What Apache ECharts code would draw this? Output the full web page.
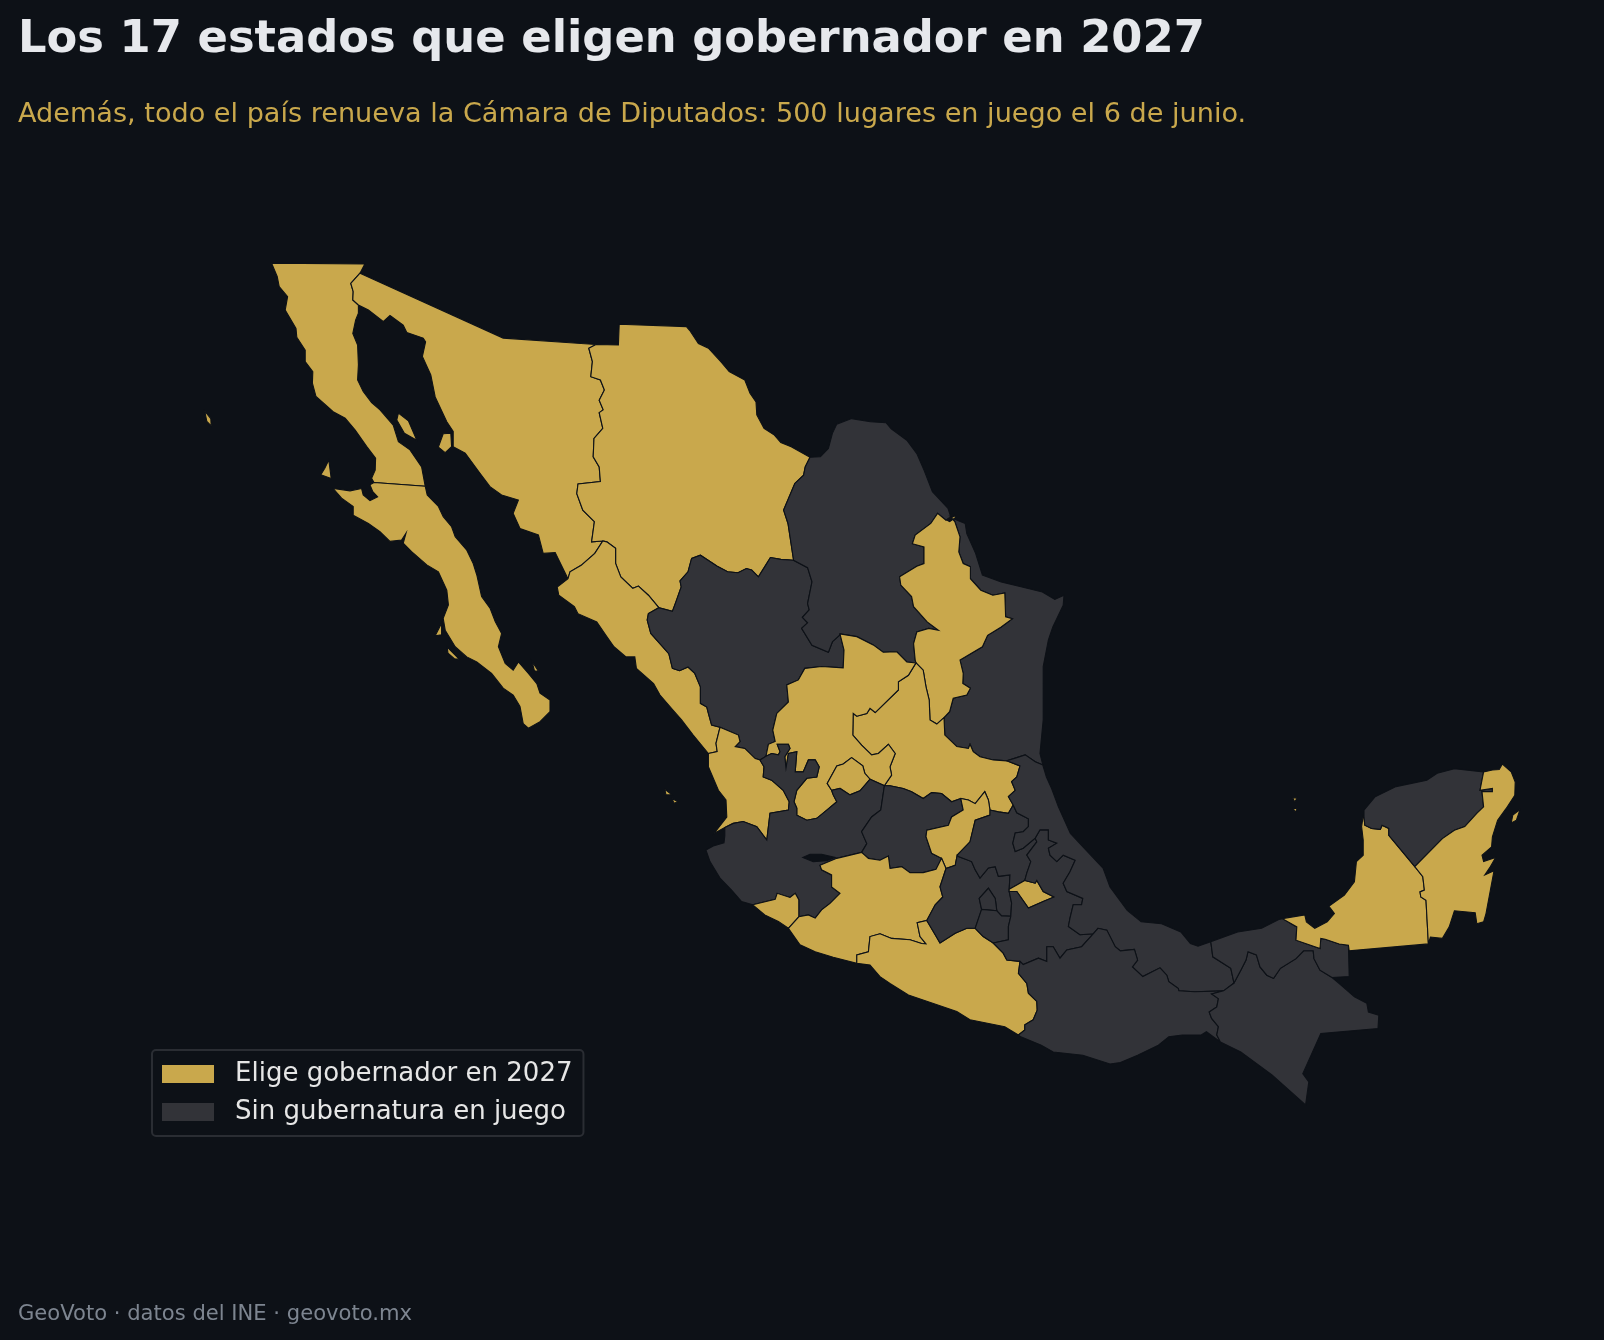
<!DOCTYPE html>
<html>
<head>
<meta charset="utf-8">
<style>
  html, body { margin: 0; padding: 0; background: #0d1117; }
  #main { width: 1604px; height: 1340px; }
</style>
<script src="https://cdn.jsdelivr.net/npm/echarts@6/dist/echarts.min.js"></script>
</head>
<body>
<div id="main"></div>
<script>
// Estados por grupo
const eligen2027 = ["Baja California", "Baja California Sur", "Sonora", "Chihuahua", "Sinaloa", "Nuevo León", "Zacatecas", "San Luis Potosí", "Nayarit", "Aguascalientes", "Michoacán", "Colima", "Guerrero", "Querétaro", "Tlaxcala", "Campeche", "Quintana Roo"];
const sinGubernatura = ["Coahuila", "Tamaulipas", "Durango", "Jalisco", "Guanajuato", "Hidalgo", "México", "Ciudad de México", "Morelos", "Puebla", "Veracruz", "Oaxaca", "Chiapas", "Tabasco", "Yucatán"];
const legendNames = ["Elige gobernador en 2027", "Sin gubernatura en juego"];

const bcSon = [[-115.0,32.46],[-115.23,32.24],[-115.17,32.06],[-115.18,31.88],[-115.04,31.77]];
const bcGulf = [[-115.04,31.59],[-115.11,31.44],[-115.18,31.15],[-115.06,30.9],[-115.04,30.47],[-115.06,30.14],[-114.92,29.89],[-114.71,29.65],[-114.5,29.49],[-114.17,29.16],[-114.04,28.8],[-113.75,28.62],[-113.46,28.25],[-113.37,27.83]];
const bcPacific = [[-114.65,27.91],[-114.71,28.0],[-114.62,28.18],[-114.61,28.44],[-114.83,28.69],[-115.12,29.05],[-115.37,29.31],[-115.67,29.45],[-116.1,29.78],[-116.19,30.07],[-116.18,30.32],[-116.37,30.54],[-116.37,30.79],[-116.58,31.07],[-116.6,31.26],[-116.87,31.66],[-116.81,31.95],[-117.02,32.17],[-117.07,32.39],[-117.21,32.68],[-114.88,32.66]];
const bcsCoast = [[-113.37,27.83],[-113.32,27.64],[-113.04,27.39],[-112.92,27.17],[-112.71,26.95],[-112.62,26.73],[-112.33,26.44],[-112.17,26.15],[-112.08,25.9],[-111.96,25.43],[-111.75,25.18],[-111.62,24.89],[-111.46,24.63],[-111.54,24.34],[-111.37,23.98],[-111.17,23.83],[-111.04,24.01],[-110.79,23.76],[-110.58,23.54],[-110.5,23.33],[-110.25,23.18],[-110.25,22.93],[-110.5,22.71],[-110.79,22.57],[-110.92,22.67],[-111.0,23.04],[-111.17,23.29],[-111.42,23.44],[-111.71,23.76],[-112.08,24.01],[-112.33,24.12],[-112.62,24.34],[-112.87,24.7],[-112.92,24.96],[-112.79,25.25],[-112.83,25.57],[-113.04,25.97],[-113.33,26.12],[-113.71,26.41],[-113.92,26.59],[-113.85,26.81],[-113.96,26.66],[-114.25,26.63],[-114.5,26.84],[-114.79,27.02],[-115.17,27.2],[-115.17,27.39],[-115.46,27.57],[-115.67,27.78],[-115.25,27.73],[-114.96,27.78],[-114.92,27.64],[-114.75,27.52],[-114.56,27.6],[-114.68,27.71],[-114.75,27.86],[-114.65,27.91]];
const sonTop = [[-115.0,32.46],[-111.42,31.05],[-109.1,30.91]];
const sonChi = [[-109.1,30.91],[-109.28,30.83],[-109.19,30.54],[-109.23,30.21],[-108.99,30.14],[-108.89,29.92],[-109.02,29.7],[-108.92,29.49],[-109.02,29.43],[-108.93,29.09],[-109.15,28.87],[-109.17,28.47],[-109.02,28.25],[-108.99,27.93],[-109.55,27.88],[-109.58,27.67],[-109.43,27.31],[-109.14,27.06],[-109.21,26.62],[-108.93,26.64]];
const sonSin = [[-108.93,26.64],[-109.13,26.37],[-109.47,26.11],[-109.75,25.97],[-109.8,25.82]];
const sonGulf = [[-110.12,26.39],[-110.42,26.37],[-110.54,26.77],[-111.0,26.91],[-111.17,27.24],[-111.04,27.53],[-111.46,27.64],[-111.75,27.82],[-112.0,28.11],[-112.37,28.55],[-112.67,28.69],[-112.67,29.02],[-112.83,29.23],[-113.12,29.77],[-113.23,30.25],[-113.44,30.65],[-113.36,30.97],[-113.42,31.05],[-113.83,31.17],[-113.92,31.33],[-114.25,31.54],[-114.42,31.41],[-114.79,31.66],[-115.04,31.77]];
const chihNorth = [[-108.54,30.9],[-108.52,31.35],[-106.84,31.3],[-106.76,31.22],[-106.54,30.93],[-106.29,30.83],[-105.98,30.54],[-105.77,30.32],[-105.38,30.14],[-105.25,29.85],[-105.1,29.66],[-105.08,29.38],[-104.9,29.09],[-104.64,28.94],[-104.48,28.78],[-104.22,28.69],[-103.75,28.46]];
const chihCoah = [[-103.75,28.46],[-103.87,28.25],[-103.91,28.07],[-104.13,27.89],[-104.41,27.31],[-104.3,27.02],[-104.16,26.22]];
const chihDur = [[-104.16,26.22],[-104.48,26.24],[-104.74,26.28],[-104.86,26.11],[-105.04,25.86],[-105.21,26.01],[-105.34,26.04],[-105.55,25.95],[-105.81,25.97],[-106.07,26.09],[-106.49,26.33],[-106.71,26.26],[-106.8,25.97],[-107.0,25.77],[-106.97,25.64],[-107.1,25.32],[-107.19,25.11],[-107.53,25.19]];
const chihSin = [[-107.53,25.19],[-107.79,25.46],[-108.04,25.66],[-108.18,25.61],[-108.48,25.86],[-108.61,26.15],[-108.61,26.48],[-108.83,26.62],[-108.93,26.64]];
const sinDur = [[-107.53,25.19],[-107.79,25.06],[-107.82,24.92],[-107.73,24.63],[-107.28,24.19],[-107.19,23.87],[-107.01,23.82],[-106.8,23.9],[-106.63,23.76],[-106.49,23.47],[-106.49,23.11],[-106.33,23.03],[-106.29,22.89],[-106.21,22.64],[-106.0,22.59]];
const sinNay = [[-106.0,22.59],[-106.1,22.24],[-106.07,22.06],[-106.29,22.02]];
const sinCoast = [[-106.29,22.02],[-106.67,22.42],[-106.96,22.75],[-107.17,22.96],[-107.5,23.29],[-107.66,23.54],[-108.09,23.87],[-108.13,24.12],[-108.35,24.12],[-108.65,24.34],[-108.83,24.56],[-109.08,24.88],[-109.55,25.06],[-109.64,25.21],[-110.03,25.46],[-110.07,25.64],[-109.8,25.82]];
const durCoah = [[-104.16,26.22],[-103.81,26.06],[-103.7,25.75],[-103.81,25.28],[-103.77,25.14],[-103.94,24.98],[-103.81,24.86],[-103.96,24.74],[-103.7,24.37],[-103.29,24.22],[-103.19,24.45],[-103.01,24.59]];
const coahNorth = [[-103.75,28.46],[-103.49,28.47],[-103.29,28.65],[-103.19,28.98],[-103.08,29.18],[-102.71,29.3],[-102.24,29.23],[-101.85,29.21],[-101.72,29.08],[-101.33,28.83],[-101.08,28.54],[-100.9,28.18],[-100.69,27.71],[-100.3,27.35],[-100.23,27.16]];
const coahNL = [[-100.23,27.16],[-100.35,27.09],[-100.56,27.24],[-100.73,27.02],[-101.12,26.77],[-101.19,26.58],[-100.9,26.51],[-100.9,26.15],[-101.08,26.09],[-101.51,25.86],[-101.48,25.68],[-101.21,25.43],[-101.16,25.21],[-100.82,24.88],[-100.54,24.7],[-100.78,24.74],[-101.08,24.66],[-101.16,24.41],[-101.12,24.05],[-101.1,23.99]];
const coahZac = [[-103.0,24.62],[-102.58,24.56],[-102.17,24.38],[-101.92,24.22],[-101.58,24.23],[-101.33,24.01],[-101.1,23.99]];
const nlSliver = [[-100.32,27.09],[-100.13,27.19],[-100.11,27.15],[-100.26,27.06]];
const nlSlp = [[-101.1,23.99],[-100.92,23.83],[-100.85,23.47],[-100.77,23.18],[-100.75,22.75],[-100.58,22.66],[-100.4,22.8]];
const nlTam = [[-100.23,27.16],[-100.13,27.06],[-100.0,26.73],[-100.03,26.4],[-99.92,26.15],[-99.74,26.08],[-99.74,25.82],[-99.48,25.57],[-99.18,25.46],[-98.88,25.51],[-98.86,24.99],[-98.69,24.95],[-98.97,24.77],[-99.31,24.59],[-99.44,24.34],[-100.0,24.05],[-99.92,23.76],[-99.93,23.54],[-99.74,23.44],[-99.83,23.29],[-100.17,23.22],[-100.26,22.93],[-100.4,22.8]];
const tamCoast = [[-100.23,27.16],[-100.13,27.11],[-99.87,27.02],[-99.83,26.8],[-99.61,26.37],[-99.44,25.9],[-98.97,25.75],[-98.45,25.64],[-97.94,25.53],[-97.63,25.37],[-97.4,25.46],[-97.42,25.24],[-97.68,24.77],[-97.79,24.49],[-97.92,23.91],[-97.92,22.75],[-98.0,22.02],[-97.93,21.77]];
const tamVer = [[-97.93,21.77],[-98.12,21.84],[-98.37,21.99],[-98.58,21.93],[-98.83,21.86]];
const slpTam = [[-100.4,22.8],[-100.38,22.42],[-100.08,22.17],[-99.79,22.13],[-99.75,22.22],[-99.67,22.06],[-99.5,21.95],[-99.17,21.88],[-98.83,21.86]];
const slpVer = [[-98.83,21.86],[-98.5,21.75],[-98.58,21.51],[-98.71,21.41],[-98.62,21.22],[-98.79,21.08],[-98.67,20.9]];
const slpHgo = [[-98.67,20.9],[-98.79,20.72],[-99.04,20.75],[-99.25,20.79]];
const slpQro = [[-99.25,20.79],[-99.29,21.01],[-99.38,21.19],[-99.62,20.93],[-99.79,21.01],[-99.98,21.04]];
const slpGto = [[-99.98,21.04],[-100.21,20.97],[-100.46,21.15],[-100.71,21.17],[-100.92,21.04],[-101.21,21.19],[-101.42,21.26],[-101.75,21.32],[-101.89,21.32]];
const zacSlp = [[-101.1,23.99],[-101.29,23.72],[-101.54,23.58],[-101.54,23.4],[-102.12,22.91],[-102.25,23.0],[-102.33,22.89],[-102.58,22.83],[-102.67,22.89],[-102.68,22.42],[-102.46,22.2],[-102.21,21.99],[-102.04,22.02],[-101.79,22.22],[-101.62,22.02],[-101.75,21.73],[-101.71,21.55],[-101.89,21.32]];
const durZac = [[-103.0,24.62],[-102.9,24.27],[-102.92,23.88],[-103.46,23.91],[-103.88,23.87],[-104.04,23.62],[-104.33,23.51],[-104.29,23.14],[-104.58,22.89],[-104.68,22.53],[-104.62,22.28],[-104.79,22.22],[-104.85,21.96]];
const zacJal = [[-104.85,21.96],[-104.71,22.02],[-104.54,21.99],[-104.5,22.06],[-104.57,22.22],[-104.29,22.22],[-104.25,22.13],[-104.38,21.95],[-104.35,21.7],[-104.29,22.02],[-104.08,22.06],[-104.12,21.62],[-103.92,21.62],[-103.79,21.88],[-103.62,21.88],[-103.52,21.73],[-103.58,21.51],[-103.83,21.48],[-104.08,21.22],[-104.15,20.97],[-104.08,20.83],[-104.08,20.68],[-103.83,20.57],[-103.58,20.61],[-103.33,20.79],[-103.08,20.97],[-103.17,21.12],[-103.21,21.22]];
const zacAgs = [[-103.21,21.22],[-103.32,21.37],[-103.08,21.75],[-102.92,21.79],[-102.71,21.93],[-102.43,21.75],[-102.38,21.59],[-102.25,21.46]];
const jalAgs = [[-103.21,21.22],[-103.0,21.26],[-102.75,21.12],[-102.5,21.21],[-102.25,21.46]];
const zacEast = [[-102.25,21.46],[-101.89,21.32]];
const gtoJal = [[-101.89,21.32],[-101.98,20.79],[-102.21,20.64],[-102.46,20.32],[-102.33,20.06],[-102.46,19.87]];
const jalMich = [[-102.46,19.87],[-103.08,19.74],[-103.5,19.59],[-103.46,19.49],[-103.21,19.38],[-103.21,19.12],[-103.0,18.98],[-103.25,18.76],[-103.46,18.62],[-103.62,18.44],[-103.79,18.51],[-104.03,18.47]];
const lagoChapala = [[-103.93,19.76],[-103.75,19.83],[-103.46,19.83],[-103.12,19.76],[-103.33,19.69],[-103.67,19.67]];
const colJal = [[-105.18,18.73],[-104.62,18.85],[-104.57,18.98],[-104.25,18.89],[-104.12,18.98],[-104.03,18.84],[-104.03,18.47]];
const colMich = [[-104.03,18.47],[-104.29,18.22]];
const colCoast = [[-104.29,18.22],[-104.54,18.37],[-104.88,18.51],[-105.18,18.73]];
const jalCoast = [[-105.18,18.73],[-105.46,18.8],[-105.71,19.05],[-106.0,19.31],[-106.25,19.67],[-106.35,19.92],[-106.17,20.01],[-105.9,20.08],[-105.88,20.23],[-105.88,20.41]];
const nayJal = [[-105.88,20.41],[-105.67,20.5],[-105.42,20.54],[-105.08,20.43],[-104.83,20.14],[-104.75,20.72],[-104.29,20.79],[-104.27,20.97],[-104.42,21.22],[-104.71,21.44],[-104.92,21.51],[-104.9,21.73],[-105.0,21.88]];
const nayDur = [[-106.0,22.59],[-105.54,22.42],[-105.5,22.28],[-105.62,22.17],[-105.38,22.13],[-105.12,21.91],[-105.0,21.88]];
const nayCoast = [[-105.88,20.41],[-106.15,20.28],[-105.83,20.64],[-105.85,21.01],[-106.04,21.22],[-106.29,21.73],[-106.29,22.02]];
const qroGto = [[-99.98,21.04],[-99.92,20.79],[-100.21,20.64],[-100.29,20.46],[-100.83,20.35],[-100.85,20.21],[-100.71,19.85],[-100.46,19.74]];
const qroMich = [[-100.46,19.74],[-100.35,19.52]];
const mexQro = [[-100.35,19.52],[-100.12,19.59],[-100.07,19.81]];
const hgoQro = [[-100.07,19.81],[-99.75,20.1],[-99.62,20.57],[-99.25,20.68],[-99.25,20.79]];
const gtoMich = [[-100.46,19.74],[-100.6,19.5],[-100.92,19.43],[-101.25,19.43],[-101.46,19.56],[-101.75,19.52],[-101.79,19.79],[-102.0,19.7],[-102.29,19.74],[-102.46,19.87]];
const hgoVer = [[-98.67,20.9],[-98.58,20.73],[-98.29,20.6],[-98.29,20.43],[-98.42,20.32],[-98.62,20.29],[-98.68,20.07],[-98.62,19.89],[-98.42,19.96],[-98.12,20.18]];
const hgoPue = [[-98.12,20.18],[-98.08,20.1],[-98.33,19.81],[-98.23,19.67],[-98.33,19.42],[-98.38,19.26]];
const hgoTlax = [[-98.38,19.26],[-98.58,19.16],[-98.77,19.07]];
const hgoMex = [[-98.77,19.07],[-98.75,19.38],[-99.04,19.35],[-99.12,19.56],[-99.29,19.53],[-99.5,19.31],[-99.62,19.49],[-99.71,19.67],[-100.04,19.78],[-100.07,19.81]];
const tlaxPue = [[-98.38,19.26],[-98.12,19.2],[-98.08,19.26],[-97.92,19.02],[-97.65,18.9],[-97.92,18.8],[-98.29,18.66],[-98.58,19.02],[-98.77,19.02]];
const tlaxMex = [[-98.77,19.07],[-98.77,19.02]];
const mexPue = [[-98.77,19.02],[-98.71,18.77],[-98.73,18.48]];
const morMexE = [[-98.73,18.48],[-98.96,18.49],[-99.08,18.6]];
const cdmxMor = [[-99.08,18.6],[-99.46,18.63]];
const cdmxMex = [[-99.46,18.63],[-99.52,18.87],[-99.29,19.09],[-99.12,18.87],[-99.08,18.6]];
const morMexW = [[-99.46,18.63],[-99.62,18.22]];
const groMex = [[-100.83,18.39],[-100.62,18.08],[-100.5,17.9],[-100.12,18.11],[-99.83,18.22],[-99.62,18.22]];
const mexMich = [[-100.35,19.52],[-100.5,19.12],[-100.43,18.9],[-100.62,18.73],[-100.83,18.39]];
const groMor = [[-99.62,18.22],[-99.42,18.04],[-99.17,17.9]];
const morPue = [[-99.17,17.9],[-98.79,17.97],[-98.79,18.26],[-98.73,18.48]];
const groPue = [[-99.17,17.9],[-98.92,17.68],[-98.83,17.53],[-98.5,17.5]];
const michGro = [[-102.58,17.46],[-102.58,17.64],[-102.29,17.71],[-102.25,18.04],[-102.0,18.1],[-101.71,18.0],[-101.25,17.97],[-100.96,17.89],[-100.85,17.88],[-101.0,18.04],[-101.07,18.34],[-100.83,18.39]];
const michCoast = [[-102.58,17.46],[-103.17,17.59],[-103.62,17.71],[-104.0,17.86],[-104.29,18.22]];
const groCoast = [[-98.54,15.9],[-98.88,16.08],[-99.75,16.23],[-100.08,16.41],[-101.29,16.77],[-101.75,17.02],[-102.0,17.17],[-102.25,17.42],[-102.58,17.46]];
const groOax = [[-98.5,17.5],[-98.54,17.24],[-98.33,17.02],[-98.29,16.81],[-98.08,16.63],[-98.07,16.44],[-98.17,16.23],[-98.38,16.12],[-98.38,16.01],[-98.54,15.9]];
const pueVer = [[-98.12,20.18],[-98.0,20.36],[-97.79,20.36],[-97.79,20.14],[-97.58,20.07],[-97.79,19.96],[-97.75,19.81],[-97.58,19.67],[-97.42,19.81],[-97.12,19.7],[-97.25,19.45],[-97.42,19.2],[-97.33,19.02],[-96.93,18.87],[-96.96,18.73],[-97.17,18.73],[-97.25,18.44],[-97.29,18.26],[-97.0,18.08],[-96.67,18.1]];
const oaxPue = [[-96.67,18.1],[-96.96,17.82],[-97.33,17.75],[-97.5,17.57],[-97.67,17.82],[-97.83,17.82],[-97.83,17.5],[-98.04,17.57],[-98.42,17.43],[-98.5,17.5]];
const verCoast = [[-97.93,21.77],[-97.84,21.51],[-97.71,21.26],[-97.54,20.86],[-97.24,20.28],[-96.85,19.92],[-96.42,19.52],[-96.25,19.12],[-95.82,18.61],[-95.47,18.36],[-94.96,18.32],[-94.48,18.14],[-94.24,17.89],[-94.05,17.83],[-93.73,17.93]];
const verTab = [[-93.73,17.93],[-93.68,17.6],[-93.23,17.35],[-93.15,17.03]];
const verChis = [[-93.15,17.03],[-93.41,16.86]];
const oaxVer = [[-93.41,16.86],[-94.14,16.84],[-94.53,16.86],[-94.54,16.91],[-94.78,17.06],[-94.83,17.2],[-95.0,17.36],[-95.43,17.17],[-95.69,17.38],[-95.56,17.53],[-95.64,17.76],[-95.99,17.73],[-96.12,17.82],[-96.33,18.18],[-96.55,18.22],[-96.67,18.1]];
const oaxChis = [[-93.41,16.86],[-93.71,16.79],[-93.54,16.69],[-93.58,16.51],[-93.77,16.4],[-93.71,16.26],[-93.54,16.08],[-93.58,15.9],[-93.49,15.75]];
const oaxCoast = [[-93.49,15.75],[-93.84,15.97],[-93.97,15.9],[-94.44,15.9],[-94.78,15.86],[-95.04,15.68],[-95.56,15.46],[-95.99,15.3],[-96.25,15.27],[-96.93,15.46],[-97.67,15.53],[-97.97,15.68],[-98.48,15.86],[-98.54,15.9]];
const tabChis = [[-93.15,17.03],[-92.98,17.31],[-92.85,17.53],[-92.8,17.71],[-92.59,17.64],[-92.5,17.38],[-92.33,17.2],[-92.16,17.13],[-91.99,17.35],[-91.6,17.56],[-91.41,17.73],[-91.17,17.73],[-91.15,17.56],[-91.0,17.31],[-90.7,17.15]];
const chisCoast = [[-90.7,17.15],[-90.52,17.02],[-90.14,16.73],[-89.83,16.59],[-89.79,16.4],[-89.53,16.33],[-89.55,16.04],[-90.98,15.93],[-91.43,15.06],[-91.28,14.88],[-91.36,14.38],[-92.2,15.03],[-92.98,15.53],[-93.49,15.75]];
const tabCoast = [[-93.73,17.93],[-93.06,18.14],[-92.46,18.22],[-92.03,18.41],[-91.94,18.43]];
const tabCamp = [[-91.94,18.43],[-91.58,18.25],[-91.6,17.96],[-91.0,17.78],[-90.98,18.0],[-90.87,17.98],[-90.52,17.88],[-90.29,17.85]];
const tabEast = [[-90.29,17.85],[-90.27,17.17],[-90.7,17.15]];
const campCoast = [[-91.94,18.43],[-91.38,18.51],[-91.34,18.36],[-91.13,18.22],[-90.82,18.36],[-90.64,18.54],[-90.78,18.7],[-90.39,18.94],[-90.14,19.23],[-90.09,19.67],[-89.92,19.81],[-89.92,20.14],[-89.96,20.43],[-89.92,20.66]];
const campYuc = [[-89.9,20.63],[-89.88,20.46],[-89.71,20.39],[-89.49,20.37],[-89.45,20.46],[-89.28,20.39],[-89.28,20.24],[-88.63,19.56]];
const campQroo = [[-88.63,19.56],[-88.43,19.34],[-88.39,19.05],[-88.5,19.01],[-88.48,18.9],[-88.35,18.83],[-88.29,17.88]];
const campSouth = [[-90.27,17.73]];
const yucCoast = [[-89.9,20.63],[-89.9,20.79],[-89.62,21.08],[-89.1,21.3],[-88.33,21.44],[-88.07,21.59],[-87.64,21.69],[-86.91,21.62]];
const yucQroo = [[-86.91,21.62],[-87.0,21.22],[-86.69,21.26],[-86.69,21.19],[-86.95,21.19],[-86.91,20.86],[-87.08,20.72],[-87.38,20.43],[-87.64,20.35],[-87.94,20.17],[-88.63,19.56]];
const qrooCoast = [[-86.91,21.62],[-86.69,21.66],[-86.52,21.67],[-86.44,21.79],[-86.22,21.62],[-86.12,21.4],[-86.13,21.11],[-86.35,20.82],[-86.56,20.57],[-86.69,20.21],[-86.71,19.99],[-86.95,19.81],[-86.91,19.67],[-86.61,19.76],[-86.74,19.56],[-86.88,19.38],[-86.65,19.47],[-86.74,19.05],[-86.85,18.54],[-86.91,18.36],[-87.08,18.32],[-87.12,18.56],[-87.64,18.6],[-87.77,18.25],[-87.94,18.0],[-88.24,18.03],[-88.29,17.88]];

// Islas
const islaGuadalupe = [[-118.88,29.46],[-118.73,29.3],[-118.72,29.14],[-118.83,29.24]];
const islaCedros = [[-115.78,28.4],[-115.72,28.0],[-115.98,28.08],[-115.88,28.22]];
const islaAngel = [[-114.04,29.42],[-113.79,29.25],[-113.58,28.83],[-113.89,28.98],[-114.08,29.27]];
const islaTiburon = [[-112.92,28.97],[-112.73,28.98],[-112.71,28.69],[-112.87,28.56],[-113.04,28.68]];
const islaEspiritu = [[-110.7,24.02],[-110.53,23.8],[-110.64,23.82]];
const islaMargarita = [[-112.82,24.33],[-112.52,24.07],[-112.64,24.08],[-112.8,24.2]];
const islaMagdalena = [[-113.12,24.58],[-112.96,24.85],[-112.96,24.6]];
const islaMaria1 = [[-107.38,21.24],[-107.2,21.12],[-107.35,21.12]];
const islaMaria2 = [[-107.2,21.04],[-107.05,20.97],[-107.15,20.94]];
const arrecife1 = [[-91.69,21.06],[-91.57,21.05],[-91.63,20.97]];
const arrecife2 = [[-91.67,20.83],[-91.57,20.82],[-91.62,20.74]];
const islaCozumel = [[-86.0,20.8],[-86.09,20.57],[-86.22,20.51],[-86.18,20.68]];

const rev = (a) => [...a].reverse();
const ring = (...parts) => {
  const pts = parts.flat();
  pts.push(pts[0]);
  return pts;
};
const closed = (a) => [...a, a[0]];

const shapes = {
  "Baja California": [[ring(bcSon, bcGulf, bcPacific)], [closed(islaAngel)], [closed(islaCedros)], [closed(islaGuadalupe)]],
  "Baja California Sur": [[ring(bcsCoast)], [closed(islaEspiritu)], [closed(islaMargarita)], [closed(islaMagdalena)]],
  "Sonora": [[ring(sonTop, sonChi, sonSin, sonGulf, rev(bcSon))], [closed(islaTiburon)]],
  "Chihuahua": [[ring(chihNorth, chihCoah, chihDur, chihSin, rev(sonChi))]],
  "Sinaloa": [[ring(rev(sonSin), rev(chihSin), sinDur, sinNay, sinCoast)]],
  "Durango": [[ring(durCoah, durZac, rev(nayDur), rev(sinDur), rev(chihDur))]],
  "Coahuila": [[ring(coahNorth, coahNL, rev(coahZac), rev(durCoah), rev(chihCoah))]],
  "Tamaulipas": [[ring(tamCoast, tamVer, rev(slpTam), rev(nlTam))]],
  "Nuevo León": [[ring(coahNL, nlSlp, rev(nlTam))], [closed(nlSliver)]],
  "San Luis Potosí": [[ring(nlSlp, slpTam, slpVer, slpHgo, slpQro, slpGto, rev(zacSlp))]],
  "Zacatecas": [[ring(coahZac, zacSlp, rev(zacEast), rev(zacAgs), rev(zacJal), rev(durZac))]],
  "Aguascalientes": [[ring(zacAgs, rev(jalAgs))]],
  "Nayarit": [[ring(rev(sinNay), nayDur, rev(nayJal), nayCoast)], [closed(islaMaria1)], [closed(islaMaria2)]],
  "Jalisco": [[ring(zacJal, jalAgs, zacEast, gtoJal, jalMich, rev(colJal), jalCoast, nayJal), closed(rev(lagoChapala))]],
  "Colima": [[ring(colJal, colMich, colCoast)]],
  "Guanajuato": [[ring(slpGto, gtoJal, rev(gtoMich), rev(qroGto))]],
  "Querétaro": [[ring(slpQro, qroGto, qroMich, mexQro, hgoQro)]],
  "Michoacán": [[ring(rev(jalMich), rev(gtoMich), qroMich, mexMich, rev(michGro), michCoast, rev(colMich))]],
  "Guerrero": [[ring(michGro, groMex, groMor, groPue, groOax, groCoast)]],
  "México": [[ring(rev(hgoMex), tlaxMex, mexPue, morMexE, rev(cdmxMex), morMexW, rev(groMex), rev(mexMich), mexQro)]],
  "Ciudad de México": [[ring(cdmxMor, cdmxMex)]],
  "Morelos": [[ring(groMor, morPue, morMexE, cdmxMor, morMexW)]],
  "Hidalgo": [[ring(hgoVer, hgoPue, hgoTlax, hgoMex, hgoQro, rev(slpHgo))]],
  "Tlaxcala": [[ring(rev(hgoTlax), tlaxPue, rev(tlaxMex))]],
  "Puebla": [[ring(rev(hgoPue), pueVer, oaxPue, rev(groPue), morPue, rev(mexPue), rev(tlaxPue))]],
  "Veracruz": [[ring(verCoast, verTab, verChis, oaxVer, rev(pueVer), rev(hgoVer), rev(slpVer), rev(tamVer))]],
  "Oaxaca": [[ring(oaxChis, oaxCoast, rev(groOax), rev(oaxPue), rev(oaxVer))]],
  "Chiapas": [[ring(tabChis, chisCoast, rev(oaxChis), rev(verChis))]],
  "Tabasco": [[ring(tabCoast, tabCamp, tabEast, rev(tabChis), rev(verTab))]],
  "Campeche": [[ring(campCoast, campYuc, campQroo, campSouth, rev(tabCamp))], [closed(arrecife1)], [closed(arrecife2)]],
  "Yucatán": [[ring(yucCoast, yucQroo, rev(campYuc))]],
  "Quintana Roo": [[ring(qrooCoast, rev(campQroo), rev(yucQroo))], [closed(islaCozumel)]]
};

const mexico = {
  type: "FeatureCollection",
  features: Object.keys(shapes).map((name) => ({
    type: "Feature",
    properties: { name: name },
    geometry: { type: "MultiPolygon", coordinates: shapes[name] }
  }))
};
echarts.registerMap("mexico", mexico);

const GOLD = "#c9a84c";
const GREY = "#323338";
const BG = "#0d1117";
const myChart = echarts.init(document.getElementById("main"));

const regionStyle = (name, color) => ({ name: name, itemStyle: { areaColor: color } });

const option = {
  backgroundColor: BG,
  animation: false,
  title: [
    { text: "Los 17 estados que eligen gobernador en 2027", left: 13, top: 13,
      textStyle: { color: "#e6e8ec", fontFamily: "DejaVu Sans", fontWeight: "bold", fontSize: 44.8 } },
    { text: "Además, todo el país renueva la Cámara de Diputados: 500 lugares en juego el 6 de junio.", left: 13, top: 96,
      textStyle: { color: GOLD, fontFamily: "DejaVu Sans", fontWeight: "normal", fontSize: 27.1 } },
    { text: "GeoVoto · datos del INE · geovoto.mx", left: 13, top: 1299,
      textStyle: { color: "#7d8590", fontFamily: "DejaVu Sans", fontWeight: "normal", fontSize: 21.1 } }
  ],
  legend: {
    left: 152, top: 1050,
    orient: "vertical",
    data: legendNames,
    icon: "rect",
    itemWidth: 52, itemHeight: 18, itemGap: 12,
    padding: [11, 11, 11, 10],
    backgroundColor: BG,
    borderColor: "#2a2d33", borderWidth: 2, borderRadius: 4,
    selectedMode: false,
    textStyle: { color: "#e6e6e6", fontFamily: "DejaVu Sans", fontSize: 26, padding: [0, 0, 0, 16] }
  },
  geo: {
    map: "mexico",
    left: 0, top: 0, right: 0, bottom: 0,
    boundingCoords: [[-124, 38.4], [-83.9, 9.2696]],
    aspectScale: 40 / 46,
    roam: false,
    silent: true,
    label: { show: false },
    itemStyle: { areaColor: GREY, borderColor: BG, borderWidth: 1.1 },
    regions: [
      ...eligen2027.map((n) => regionStyle(n, GOLD)),
      ...sinGubernatura.map((n) => regionStyle(n, GREY))
    ]
  },
  // series vacias solo para la leyenda
  series: [
    { name: legendNames[0], type: "scatter", coordinateSystem: "geo", data: [], itemStyle: { color: GOLD, opacity: 1 } },
    { name: legendNames[1], type: "scatter", coordinateSystem: "geo", data: [], itemStyle: { color: GREY, opacity: 1 } }
  ]
};

myChart.setOption(option);
</script>
</body>
</html>
